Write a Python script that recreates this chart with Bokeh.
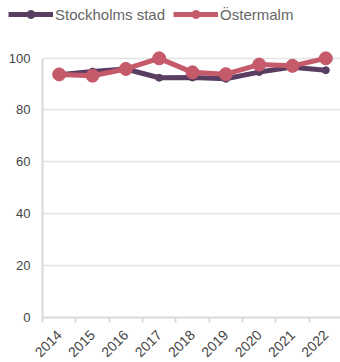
from bokeh.plotting import figure
from bokeh.models import Range1d, FixedTicker, Legend, LegendItem, ColumnDataSource
from bokeh.layouts import column
from bokeh.embed import file_html
from bokeh.resources import INLINE
import math

years = ["2014", "2015", "2016", "2017", "2018", "2019", "2020", "2021", "2022"]
stockholm = [93.6, 94.8, 95.8, 92.4, 92.5, 92.0, 94.6, 96.5, 95.3]
ostermalm = [93.7, 93.2, 95.8, 99.9, 94.5, 93.8, 97.5, 97.0, 99.9]
y_ticks = [0, 20, 40, 60, 80, 100]
series_names = ["Stockholms stad", "Östermalm"]

PURPLE = "#5a3e62"
PINK = "#c55a6b"

xs = [i + 0.5 for i in range(len(years))]

# ---------- main chart ----------
p = figure(frame_width=298, frame_height=275, output_backend="svg", toolbar_location=None,
           x_range=Range1d(0, 8.94), y_range=Range1d(0, 106),
           min_border_left=42, min_border_right=0, min_border_top=14, min_border_bottom=40)
p.frame_align = False
p.outline_line_color = None
p.background_fill_color = "white"

src_s = ColumnDataSource(dict(x=xs, y=stockholm))
src_o = ColumnDataSource(dict(x=xs, y=ostermalm))

p.line("x", "y", source=src_s, line_color=PURPLE, line_width=5)
p.scatter("x", "y", source=src_s, size=7, color=PURPLE)
p.line("x", "y", source=src_o, line_color=PINK, line_width=5)
p.scatter("x", "y", source=src_o, size=13, color=PINK)

p.xaxis.ticker = FixedTicker(ticks=xs, minor_ticks=list(range(len(years) + 1)))
p.xaxis.major_label_overrides = {x: y for x, y in zip(xs, years)}
p.xaxis.major_tick_line_color = None
p.xaxis.major_tick_out = 5
p.xaxis.major_tick_in = 0
p.xaxis.minor_tick_line_color = "#d9d9d9"
p.xaxis.minor_tick_line_width = 2
p.xaxis.minor_tick_out = 5
p.xaxis.minor_tick_in = 0
p.xaxis.axis_line_color = "#d9d9d9"
p.xaxis.axis_line_width = 2
p.xaxis.major_label_orientation = math.pi / 4
p.xaxis.major_label_text_font = "Liberation Sans"
p.xaxis.major_label_text_font_size = "14px"
p.xaxis.major_label_text_color = "#444444"
p.xaxis.major_label_standoff = 10

p.yaxis.ticker = FixedTicker(ticks=y_ticks)
p.yaxis.bounds = (0, 100)
p.yaxis.axis_line_color = "#d9d9d9"
p.yaxis.axis_line_width = 2
p.yaxis.major_tick_line_color = None
p.yaxis.major_tick_out = 0
p.yaxis.major_tick_in = 0
p.yaxis.minor_tick_line_color = None
p.yaxis.major_label_text_font = "Liberation Sans"
p.yaxis.major_label_text_font_size = "13px"
p.yaxis.major_label_text_color = "#444444"
p.yaxis.major_label_standoff = 12

p.xgrid.grid_line_color = None
p.ygrid.ticker = FixedTicker(ticks=y_ticks)
p.ygrid.grid_line_color = "#e3e3e3"
p.ygrid.grid_line_width = 1.5

# ---------- legend strip ----------
lf = figure(width=340, height=28, output_backend="svg", toolbar_location=None,
            x_range=Range1d(100, 101), y_range=Range1d(100, 101),
            x_axis_location=None, y_axis_location=None, min_border=0)
lf.frame_align = False
lf.grid.visible = False
lf.outline_line_color = None
ll1 = lf.line("x", "y", source=src_s, line_color=PURPLE, line_width=5)
lm1 = lf.scatter("x", "y", source=src_s, size=7, color=PURPLE)
ll2 = lf.line("x", "y", source=src_o, line_color=PINK, line_width=5)
lm2 = lf.scatter("x", "y", source=src_o, size=13, color=PINK)

legend = Legend(items=[LegendItem(label=series_names[0], renderers=[ll1, lm1]),
                       LegendItem(label=series_names[1], renderers=[ll2, lm2])],
                location=(8, 4), orientation="horizontal",
                glyph_width=45, glyph_height=20, label_standoff=2, spacing=8,
                padding=0, margin=0, border_line_color=None,
                background_fill_alpha=0,
                label_text_font="Liberation Sans", label_text_font_size="15px",
                label_text_color="#666666")
lf.add_layout(legend)

layout = column(lf, p, spacing=0)
open("out.html", "w").write(file_html(layout, INLINE))
